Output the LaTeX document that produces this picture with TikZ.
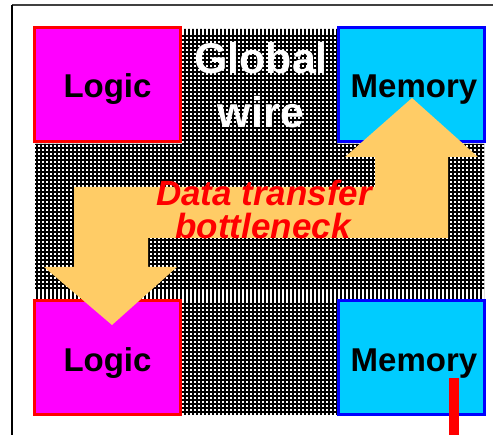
\documentclass[tikz,border=0pt]{standalone}
\usepackage{fontspec}
\setmainfont{Liberation Sans}
\usepackage{xcolor}
\usepackage{tikz}
\usetikzlibrary{positioning}

\definecolor{logicpink}{RGB}{255,0,255}
\definecolor{memcyan}{RGB}{0,204,255}
\definecolor{flowfill}{RGB}{255,204,102}

\begin{document}
\begin{tikzpicture}[x=1pt, y=-1pt, every node/.style={font=\bfseries, inner sep=0pt},
    logicbox/.style={draw=red, fill=logicpink, line width=3pt, minimum width=146pt, minimum height=114pt},
    membox/.style={draw=blue, fill=memcyan, line width=3pt, minimum width=146pt, minimum height=114pt},
    boxlabel/.style={anchor=base, font=\fontsize{33}{33}\selectfont\bfseries},
    wirelabel/.style={anchor=base, text=white, font=\fontsize{43}{43}\selectfont\bfseries},
    flowlabel/.style={anchor=base, text=red, text height=24pt, text depth=0pt,
      font=\fontsize{35}{35}\selectfont\bfseries\itshape}]
  \useasboundingbox (0,0) rectangle (493,435);
  % slide frame
  \draw[line width=2pt, black!75] (12,5) -- (493,5);
  \draw[line width=1.5pt] (12,5) -- (12,435);

  % global wire mesh: vertical tracks everywhere, horizontal tracks inside
  \begin{scope}
    \clip (35,144) -- (182,144) -- (182,29) -- (337,29) -- (337,144) -- (484,144)
      -- (484,299) -- (337,299) -- (337,415) -- (182,415) -- (182,299) -- (35,299) -- cycle;
    \foreach \x in {37,41,...,485}
      \draw[line width=1.7pt] (\x,25) -- (\x,420);
    \foreach \y in {36,40,...,288}
      \draw[line width=1.7pt] (30,\y) -- (490,\y);
    \foreach \y in {304,308,...,412}
      \draw[line width=1.7pt] (178,\y) -- (340,\y);
  \end{scope}

  % the four blocks
  \node[logicbox] (logicA) at (107.5,85) {};
  \node[membox] (memA) at (411.5,85) {};
  \node[logicbox] (logicB) at (107.5,358) {};
  \node[membox] (memB) at (411.5,358) {};

  % transfer path between the blocks
  \fill[flowfill] (74,187) -- (375,187) -- (375,157) -- (345,157) -- (412,98) -- (478,157)
    -- (448,157) -- (448,238) -- (148,238) -- (148,267) -- (177,267) -- (112,325)
    -- (44,267) -- (74,267) -- cycle;

  \node[boxlabel] (logicAtxt) at (107.5,98) {Logic};
  \node[boxlabel] (memAtxt) at (414,98) {Memory};
  \node[boxlabel] (logicBtxt) at (107.5,372) {Logic};
  \node[boxlabel] (memBtxt) at (414,372) {Memory};

  \node[wirelabel] (globalTxt) at (261,74) {Global};
  \node[wirelabel] (wireTxt) at (261,128) {wire};

  \node[flowlabel] (dataTxt) at (264,206) {Data transfer};
  \node[flowlabel] (neckTxt) at (263,239) {bottleneck};

  % red lead leaving the lower memory
  \fill[red] (449,378) rectangle (459,435);
\end{tikzpicture}
\end{document}
